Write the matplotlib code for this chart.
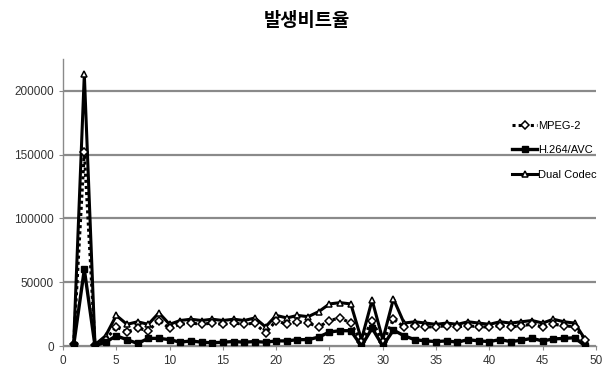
import matplotlib
matplotlib.use("Agg")
import matplotlib.pyplot as plt

plt.rcParams['font.family'] = ['Liberation Sans Narrow', 'Liberation Sans', 'DejaVu Sans']

title = "발생비트율"
frames = list(range(1, 50))
mpeg2 = [1500, 152000, 800, 5000, 15000, 11000, 14000, 12000, 20000, 14000,
         17000, 18000, 17000, 18000, 17000, 18000, 17000, 18000, 10000, 20000,
         17000, 19000, 18000, 15000, 20000, 22000, 18000, 3000, 20000, 3000,
         21000, 15000, 16000, 15000, 15000, 16000, 15000, 16000, 15000, 15000,
         16000, 15000, 16000, 17000, 15000, 17000, 16000, 15000, 5000]
h264 = [500, 60000, 300, 3000, 8000, 5000, 2000, 6000, 6000, 5000,
        3000, 4000, 3000, 2500, 3000, 3500, 3000, 3500, 3000, 4000,
        4000, 5000, 5000, 7000, 11000, 12000, 12000, 0, 14000, 0,
        12500, 8000, 5000, 4000, 3500, 4000, 3000, 5000, 4000, 3500,
        5000, 3500, 4500, 6000, 4000, 5500, 6000, 6500, 0]
dual = [2000, 213000, 1000, 8000, 24000, 17000, 19000, 17000, 26000, 17000,
        20000, 21000, 20000, 21000, 20000, 21000, 20000, 22000, 15000, 24000,
        22000, 24000, 23000, 27000, 33000, 34000, 33000, 5000, 36000, 5000,
        37000, 18000, 19000, 18000, 17000, 18000, 17000, 19000, 18000, 17000,
        19000, 18000, 19000, 20000, 18000, 21000, 19000, 18000, 5000]
series_names = ["MPEG-2", "H.264/AVC", "Dual Codec"]
x_ticks = list(range(0, 51, 5))
y_ticks = list(range(0, 200001, 50000))

fig = plt.figure(figsize=(6.14, 3.82), dpi=100)
ax = fig.add_axes([0.1026, 0.0942, 0.868, 0.7513])

ax.plot(frames, mpeg2, linestyle=(0, (1, 1)), color='black', linewidth=2.2,
        marker='D', markersize=4, markerfacecolor='white', markeredgecolor='black',
        markeredgewidth=1.1, label=series_names[0], zorder=3)
ax.plot(frames, h264, linestyle='-', color='black', linewidth=2.4,
        marker='s', markersize=4, markerfacecolor='black', markeredgecolor='black',
        label=series_names[1], zorder=4)
ax.plot(frames, dual, linestyle='-', color='black', linewidth=2.2,
        marker='^', markersize=5, markerfacecolor='white', markeredgecolor='black',
        markeredgewidth=1.1, label=series_names[2], zorder=2)

ax.set_xlim(0, 50)
ax.set_ylim(0, 225000)
ax.set_xticks(x_ticks)
ax.set_yticks(y_ticks)
ax.yaxis.grid(True, color='#8a8a8a', linewidth=1.6)
ax.set_axisbelow(True)
for s in ['top', 'right']:
    ax.spines[s].set_visible(False)
for s in ['left', 'bottom']:
    ax.spines[s].set_color('#8a8a8a')
    ax.spines[s].set_linewidth(1.0)
ax.tick_params(axis='both', labelsize=8.5, colors='#333333', length=3,
               color='#8a8a8a')

leg = ax.legend(loc='upper right', bbox_to_anchor=(1.02, 0.82), frameon=False,
                fontsize=8, handlelength=2.2, handletextpad=0.1,
                labelspacing=1.3)

fig.suptitle(title, x=0.5, y=0.97, fontsize=13.5, fontweight='semibold',
             family=['Noto Sans CJK KR', 'DejaVu Sans'])

fig.savefig("out.png", dpi=100)
